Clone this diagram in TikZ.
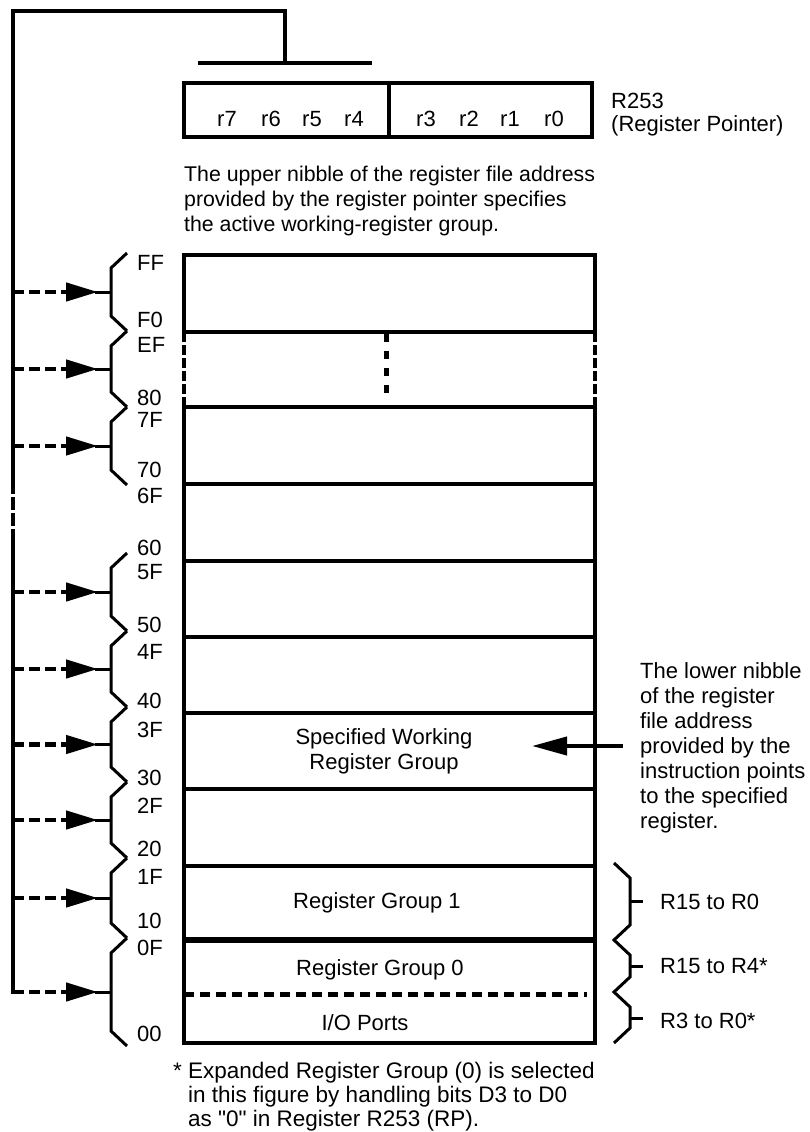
\documentclass[tikz,border=0pt]{standalone}
\usepackage{fontspec}
\setmainfont{Liberation Sans}
\font\qf="Liberation Sans" at 22.5pt
\usetikzlibrary{arrows.meta}
\begin{document}
\begin{tikzpicture}[x=1pt,y=-1pt,
  txt/.style={font=\fontsize{22}{25}\selectfont, inner sep=0pt},
  lab/.style={txt, anchor=base west},
  ctr/.style={txt, anchor=base},
  heavy/.style={line width=4pt},
  bracestyle/.style={line width=3pt, line join=miter},
  feed/.style={line width=4.5pt, dash pattern=on 11pt off 5pt, -{Triangle[length=32pt,width=18pt]}},
  sidedash/.style={line width=4pt, dash pattern=on 10pt off 3pt},
]
\useasboundingbox (0,0) rectangle (810,1132);

% feed line from register pointer to the groups
\coordinate (tl) at (13,11);
\coordinate (tr) at (285,11);
\coordinate (tb) at (285,63);
\coordinate (d1) at (13,481);
\coordinate (d2) at (13,543);
\coordinate (bl) at (13,991.5);
\draw[heavy, line join=miter] (d1) -- (tl) -- (tr) -- (tb);
\draw[line width=4pt, dash pattern=on 13pt off 3pt] (d1) -- (d2);
\draw[heavy, line cap=rect] (d2) -- (bl);
\draw[heavy] (198,63) -- (372,63);

% register pointer
\draw[heavy] (184,83) rectangle (592,137);
\draw[heavy] (389,83) -- (389,137);
\foreach \t/\x in {r7/227, r6/271, r5/312, r4/354, r3/426, r2/469, r1/510, r0/554}
  \node[ctr] (b\t) at (\x,126.9) {\t};
\node[lab] (rp1) at (611,108.9) {R253};
\node[lab] (rp2) at (611,131.4) {(Register Pointer)};
\node[txt, font=\fontsize{21.3}{25}\selectfont, anchor=north west, align=left] (up) at (184,166)
  {The upper nibble of the register file address\\provided by the register pointer specifies\\the active working-register group.};

% register file box
\draw[heavy, line join=miter] (184,332) -- (184,255) -- (595,255) -- (595,332);
\draw[heavy, line join=miter] (184,407) rectangle (595,1043);
\draw[heavy] (184,332) -- (595,332);
\draw[sidedash] (184,332) -- (184,407);
\draw[sidedash] (595,332) -- (595,407);
\draw[line width=5pt, dash pattern=on 8pt off 9pt] (386,334) -- (386,398);
\foreach \y in {484, 561, 637, 713, 789, 866}
  \draw[heavy] (184,\y) -- (595,\y);
\draw[line width=6.5pt] (184,940) -- (595,940);
\draw[line width=5pt, dash pattern=on 10pt off 6pt] (184,994) -- (587,994);

% address labels
\foreach \t/\y in {FF/263, F0/320, EF/345, 80/398, 7F/420, 70/470, 6F/496, 60/548,
                   5F/572, 50/625, 4F/652, 40/701, 3F/730, 30/778, 2F/806, 20/849,
                   1F/877, 10/921, 0F/948, 00/1034}
  \node[lab] (a\t) at (137,\y+7.9) {\t};

% left braces and arrows
\foreach \a/\b in {253/331, 331/407, 407/485, 553/631, 631/707, 707/782, 782/858, 858/938, 938/1046}{
  \draw[bracestyle] (127,\a) -- (111,\a+15) -- (111,\b-15) -- (127,\b);
  \draw[line width=3pt] (111,{(\a+\b)/2}) -- (95,{(\a+\b)/2});
  \draw[feed] (13,{(\a+\b)/2}) -- (98,{(\a+\b)/2});
}

% group texts
\node[txt, anchor=north, align=center] (swg) at (384,728) {Specified Working\\Register Group};
\node[ctr] (rg1) at (377,908.9) {Register Group 1};
\node[ctr] (rg0) at (380,975.9) {Register Group 0};
\node[ctr] (io) at (365,1030.9) {I/O Ports};

% lower nibble note and arrow
\node[txt, anchor=north west, align=left] (low) at (640,662)
  {The lower nibble\\of the register\\file address\\provided by the\\instruction points\\to the specified\\register.};
\coordinate (as) at (623,746);
\coordinate (ae) at (532,746);
\draw[line width=4pt, -{Triangle[length=35pt,width=18pt]}] (as) -- (ae);

% right braces
\draw[bracestyle] (614,863) -- (630,878) -- (630,925) -- (614,940) -- (630,955) -- (630,977)
  -- (614,992) -- (630,1007) -- (630,1028) -- (614,1043);
\foreach \y in {901, 966, 1018}
  \draw[line width=3pt] (630,\y) -- (643,\y);
\node[lab] (r1) at (660,909.9) {R15 to R0};
\node[lab] (r2) at (660,973.9) {R15 to R4*};
\node[lab] (r3) at (660,1028.9) {R3 to R0*};

% footnote
\node[txt, font=\fontsize{22.5}{24}\selectfont, anchor=north west, align=left] (foot) at (188,1062)
  {\llap{* }Expanded Register Group (0) is selected\\in this figure by handling bits D3 to D0\\as {\qf\char34}0{\qf\char34} in Register R253 (RP).};
\end{tikzpicture}
\end{document}
